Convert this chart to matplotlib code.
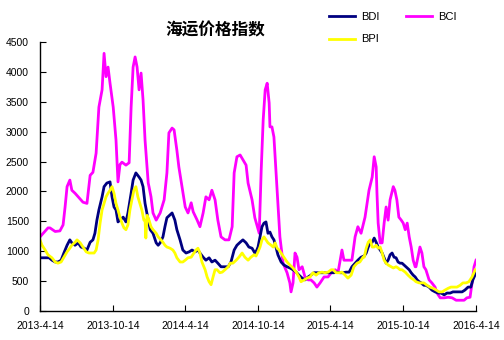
import pandas as pd
import matplotlib
matplotlib.use("Agg")
import matplotlib.pyplot as plt

# =========================================================
# DATA  (days counted from 2013-04-14)
# =========================================================

START = pd.Timestamp("2013-04-14")

bci_day = [0, 20, 25, 38, 50, 58, 63, 68, 75, 80, 88, 96, 108, 118, 126, 133, 141, 148,
           156, 161, 166, 171, 176, 184, 191, 196, 201, 206, 216, 224, 229, 234, 239, 244,
           249, 254, 259, 264, 272, 274, 279, 284, 292, 302, 312, 319, 324, 332, 337, 344,
           349, 357, 365, 372, 380, 385, 395, 402, 410, 417, 425, 432, 440, 447, 455, 465,
           475, 483, 488, 495, 503, 510, 518, 523, 533, 540, 546, 551, 556, 561, 566, 571,
           576, 578, 583, 588, 593, 598, 603, 611, 621, 628, 631, 636, 641, 646, 651, 659,
           666, 674, 681, 689, 696, 704, 714, 724, 732, 742, 749, 759, 764, 774, 784, 792,
           799, 807, 815, 817, 827, 835, 840, 845, 847, 850, 855, 860, 865, 870, 875, 880,
           888, 892, 897, 902, 908, 913, 918, 923, 928, 933, 938, 943, 945, 950, 955, 960,
           965, 970, 978, 985, 993, 998, 1006, 1016, 1026, 1036, 1046, 1056, 1066, 1073,
           1081, 1086, 1091, 1096]
bci_val = [1240, 1390, 1390, 1330, 1340, 1440, 1740, 2080, 2190, 2020, 1970, 1910, 1820,
           1800, 2270, 2320, 2640, 3410, 3700, 4310, 3920, 4080, 3810, 3410, 2860, 2160,
           2450, 2490, 2440, 2480, 3410, 4080, 4250, 4080, 3700, 3980, 3530, 2860, 2140,
           2080, 1910, 1640, 1520, 1640, 1860, 2310, 2980, 3060, 3030, 2690, 2410, 2080,
           1740, 1640, 1810, 1660, 1520, 1410, 1640, 1910, 1860, 2020, 1860, 1520, 1240,
           1190, 1190, 1410, 2310, 2580, 2610, 2530, 2440, 2140, 1860, 1560, 1420, 1300,
           2360, 3200, 3700, 3810, 3480, 3080, 3080, 2910, 2360, 1800, 1240, 800, 640, 470,
           320, 470, 970, 900, 690, 740, 570, 520, 520, 470, 400, 470, 570, 570, 640, 690,
           640, 1020, 850, 850, 850, 1240, 1410, 1300, 1520, 1570, 2020, 2240, 2580, 2410,
           1970, 1470, 1140, 1140, 1470, 1740, 1520, 1860, 2080, 2020, 1860, 1570, 1520,
           1470, 1360, 1470, 1240, 1070, 850, 740, 740, 900, 1070, 970, 740, 690, 520, 470,
           400, 300, 220, 220, 230, 220, 180, 180, 180, 220, 230, 470, 740, 850]

bdi_day = [0, 13, 23, 30, 38, 45, 53, 60, 68, 75, 80, 88, 96, 103, 111, 118, 126, 133,
           138, 143, 148, 156, 161, 168, 176, 181, 186, 191, 196, 201, 209, 216, 221, 229,
           234, 241, 249, 254, 259, 264, 272, 277, 284, 292, 297, 302, 309, 314, 319, 327,
           332, 339, 344, 352, 359, 367, 375, 382, 390, 397, 402, 410, 417, 425, 432, 440,
           447, 455, 465, 473, 480, 488, 495, 503, 510, 518, 525, 533, 540, 543, 548, 553,
           558, 563, 568, 573, 578, 583, 588, 593, 598, 606, 613, 621, 628, 636, 644, 651,
           659, 666, 674, 681, 689, 699, 706, 714, 722, 732, 739, 747, 754, 762, 769, 777,
           784, 792, 799, 807, 815, 820, 825, 830, 835, 840, 845, 850, 855, 860, 865, 870,
           875, 880, 885, 890, 895, 900, 905, 910, 915, 920, 928, 933, 938, 943, 948, 953,
           958, 965, 970, 978, 985, 993, 1001, 1008, 1016, 1023, 1031, 1038, 1046, 1053,
           1061, 1068, 1076, 1083, 1088, 1096]
bdi_val = [890, 890, 890, 850, 820, 820, 850, 970, 1100, 1190, 1140, 1100, 1140, 1070,
           1050, 1020, 1150, 1190, 1300, 1520, 1690, 1910, 2080, 2140, 2160, 1910, 1740,
           1690, 1490, 1520, 1570, 1490, 1640, 1970, 2190, 2310, 2240, 2190, 2080, 1800,
           1520, 1360, 1300, 1140, 1100, 1140, 1240, 1410, 1560, 1610, 1640, 1520, 1360,
           1190, 1020, 970, 990, 1020, 990, 1020, 970, 900, 850, 890, 820, 850, 800, 740,
           740, 740, 820, 1020, 1100, 1150, 1190, 1140, 1070, 1050, 970, 990, 1070, 1240,
           1410, 1470, 1490, 1300, 1320, 1240, 1190, 1070, 940, 820, 770, 740, 720, 690,
           650, 600, 550, 520, 570, 600, 640, 640, 640, 640, 640, 640, 640, 650, 640, 640,
           650, 650, 740, 800, 850, 900, 920, 970, 1070, 1140, 1150, 1220, 1150, 1070, 1020,
           970, 890, 800, 850, 940, 970, 900, 890, 820, 800, 800, 770, 740, 690, 640, 600,
           570, 520, 490, 470, 430, 430, 400, 350, 320, 300, 300, 270, 300, 300, 320, 320,
           320, 320, 350, 400, 400, 520, 640]

bpi_day = [0, 5, 13, 20, 30, 38, 45, 53, 60, 68, 75, 80, 88, 93, 101, 108, 116, 123, 131,
           136, 141, 146, 151, 156, 161, 166, 171, 176, 181, 186, 191, 196, 201, 206, 211,
           216, 221, 226, 231, 236, 241, 246, 251, 256, 261, 264, 266, 269, 274, 279, 284,
           292, 297, 304, 309, 314, 319, 327, 334, 339, 344, 352, 359, 365, 372, 380, 387,
           392, 397, 402, 407, 415, 420, 425, 430, 435, 440, 445, 452, 458, 465, 473, 478,
           485, 493, 500, 508, 515, 523, 530, 538, 543, 548, 553, 558, 563, 568, 573, 581,
           586, 591, 596, 601, 606, 613, 621, 628, 636, 644, 651, 656, 664, 671, 679, 686,
           694, 701, 709, 716, 724, 732, 737, 744, 752, 759, 767, 774, 782, 789, 797, 804,
           812, 815, 820, 825, 830, 835, 840, 845, 850, 855, 860, 865, 870, 875, 883, 888,
           895, 900, 905, 910, 918, 925, 933, 940, 945, 953, 960, 965, 973, 980, 988, 996,
           1003, 1011, 1018, 1026, 1033, 1041, 1048, 1056, 1063, 1071, 1078, 1086, 1094]
bpi_val = [1190, 1100, 1020, 940, 890, 820, 800, 820, 900, 990, 1050, 1100, 1150, 1190,
           1140, 1070, 990, 970, 970, 970, 1020, 1190, 1470, 1690, 1800, 1910, 1970, 2020,
           2080, 1970, 1800, 1690, 1570, 1470, 1390, 1360, 1440, 1690, 1860, 2020, 2080,
           1910, 1800, 1690, 1520, 1520, 1220, 1600, 1520, 1410, 1360, 1300, 1240, 1190,
           1150, 1100, 1070, 1050, 1020, 970, 890, 820, 820, 850, 890, 900, 970, 1020, 1050,
           970, 820, 690, 570, 490, 440, 570, 690, 690, 640, 650, 690, 740, 800, 800, 850,
           900, 970, 900, 850, 900, 940, 920, 990, 1070, 1190, 1240, 1190, 1140, 1100, 1070,
           1140, 1050, 1020, 970, 900, 820, 770, 720, 650, 570, 490, 520, 550, 570, 640,
           600, 640, 650, 640, 650, 690, 690, 640, 640, 650, 600, 550, 600, 740, 800, 820,
           900, 900, 1050, 1150, 1190, 1070, 1070, 1100, 1050, 1070, 970, 850, 800, 770,
           740, 720, 740, 720, 690, 690, 650, 600, 550, 520, 490, 470, 470, 470, 430, 400,
           380, 350, 320, 320, 350, 380, 400, 400, 400, 430, 470, 470, 490, 570, 690]

tick_dates = ["2013-04-14", "2013-10-14", "2014-04-14", "2014-10-14",
              "2015-04-14", "2015-10-14", "2016-04-14"]
tick_labels = ["2013-4-14", "2013-10-14", "2014-4-14", "2014-10-14",
               "2015-4-14", "2015-10-14", "2016-4-14"]


def to_dates(days):
    return START + pd.to_timedelta(days, unit="D")


# =========================================================
# PLOT
# =========================================================

plt.rcParams["font.family"] = ["Liberation Sans", "DejaVu Sans"]

fig = plt.figure(figsize=(5.04, 3.40), dpi=100)
ax = fig.add_axes([0.0794, 0.0853, 0.8651, 0.7912])

l_bci, = ax.plot(to_dates(bci_day), bci_val, color="#FF00FF", linewidth=2.0, label="BCI")
l_bdi, = ax.plot(to_dates(bdi_day), bdi_val, color="#000080", linewidth=2.0, label="BDI")
l_bpi, = ax.plot(to_dates(bpi_day), bpi_val, color="#FFFF00", linewidth=2.0, label="BPI")

ax.set_xlim(pd.Timestamp(tick_dates[0]), pd.Timestamp(tick_dates[-1]))
ax.set_ylim(0, 4500)
ax.set_yticks(range(0, 4501, 500))
ax.set_xticks(pd.to_datetime(tick_dates))
ax.set_xticklabels(tick_labels)

for side in ("top", "right"):
    ax.spines[side].set_visible(False)
for side in ("left", "bottom"):
    ax.spines[side].set_linewidth(1.0)

ax.tick_params(direction="in", length=4, width=0.8, labelsize=7.5, colors="black")
ax.tick_params(axis="y", pad=8)
ax.tick_params(axis="x", pad=7)

fig.text(0.427, 0.91, "海运价格指数", ha="center", va="center", fontsize=12,
         fontweight="bold", family=["Noto Sans CJK SC", "DejaVu Sans"])

fig.legend([l_bdi, l_bpi, l_bci], ["BDI", "BPI", "BCI"], ncol=2, frameon=False,
           loc="upper left", bbox_to_anchor=(0.632, 0.995), fontsize=8,
           handlelength=2.4, columnspacing=2.4, labelspacing=1.15, handletextpad=0.5)

fig.savefig("out.png", dpi=100)
